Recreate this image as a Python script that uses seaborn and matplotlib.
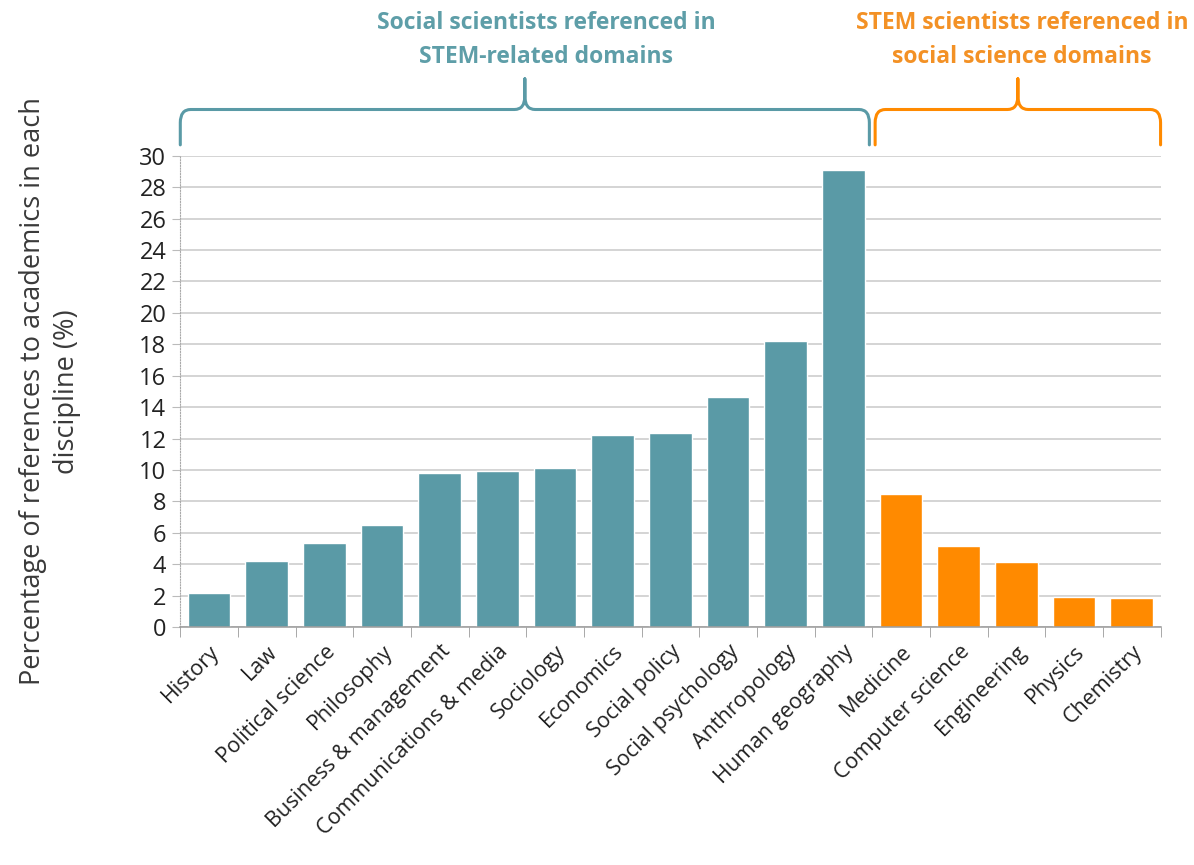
"""
bar chart of references across disciplines, with braces grouping
social science and STEM fields
"""

import numpy as np
import pandas as pd
import seaborn as sns
import matplotlib.pyplot as plt
from matplotlib.path import Path
from matplotlib.patches import PathPatch
from matplotlib.transforms import blended_transform_factory

# data
social = ["History", "Law", "Political science", "Philosophy",
          "Business & management", "Communications & media", "Sociology",
          "Economics", "Social policy", "Social psychology", "Anthropology",
          "Human geography"]
social_pct = [2.2, 4.2, 5.35, 6.5, 9.8, 9.95, 10.15, 12.25, 12.35, 14.65,
              18.2, 29.1]
stem = ["Medicine", "Computer science", "Engineering", "Physics", "Chemistry"]
stem_pct = [8.5, 5.15, 4.15, 1.9, 1.85]

group_names = ["Social scientists referenced in\nSTEM-related domains",
               "STEM scientists referenced in\nsocial science domains"]

teal = "#5A9AA6"
orange = "#FF8A00"
teal_txt = "#5E9EA8"
orange_txt = "#F39125"

df = pd.DataFrame({
    "discipline": social + stem,
    "pct": social_pct + stem_pct,
    "group": ["social"] * len(social) + ["stem"] * len(stem),
})

sns.set_style("white")
plt.rcParams["font.family"] = ["Open Sans", "DejaVu Sans"]

fig = plt.figure(figsize=(11.94, 8.65), dpi=100)
ax = fig.add_axes([0.151, 0.275, 0.821, 0.545])

sns.barplot(data=df, x="discipline", y="pct", hue="group",
            palette={"social": teal, "stem": orange}, dodge=False,
            width=0.74, legend=False, saturation=1, ax=ax)

ax.set_ylim(0, 30)
ax.set_xlim(-0.5, len(df) - 0.5)
ax.set_yticks(np.arange(0, 31, 2))
ax.yaxis.grid(True, color="#c9c9c9", linewidth=1.1)
ax.set_axisbelow(True)

for s in ["top", "right"]:
    ax.spines[s].set_visible(False)
ax.spines["left"].set_color("#aaaaaa")
ax.spines["left"].set_linestyle((0, (1, 1.5)))
ax.spines["left"].set_linewidth(0.8)
ax.spines["bottom"].set_color("#9a9a9a")
ax.spines["bottom"].set_linewidth(1.1)

# category labels, ticks between bars
ax.set_xticks(np.arange(len(df)))
ax.set_xticklabels(df["discipline"], rotation=45, ha="right",
                   rotation_mode="anchor", fontsize=15.5, color="#222222")
ax.set_xticks(np.arange(len(df) + 1) - 0.5, minor=True)
ax.tick_params(axis="x", which="major", length=0, pad=10)
ax.tick_params(axis="x", which="minor", length=7, color="#9a9a9a",
               direction="out", bottom=True)
ax.tick_params(axis="y", length=6, color="#bbbbbb", labelsize=17,
               labelcolor="#222222", left=True, pad=4)

ax.set_xlabel("")
ax.set_ylabel("Percentage of references to academics in each\ndiscipline (%)",
              fontsize=19.5, color="#3a3a3a", labelpad=42, linespacing=1.3)


def brace(x0, x1, color, xc=None):
    # curly brace above the axes: x in data, y in axes fraction
    tr = blended_transform_factory(ax.transData, ax.transAxes)
    if xc is None:
        xc = (x0 + x1) / 2
    yb, ym, yt = 1.023, 1.098, 1.163
    rx, ry = 0.18, 0.028
    verts, codes = [], []
    for xe, sgn in [(x0, 1), (x1, -1)]:
        verts += [(xe, yb), (xe, ym - ry), (xe, ym), (xe + sgn * rx, ym),
                  (xc - sgn * rx, ym), (xc, ym), (xc, ym + ry), (xc, yt)]
        codes += [Path.MOVETO, Path.LINETO, Path.CURVE3, Path.CURVE3,
                  Path.LINETO, Path.CURVE3, Path.CURVE3, Path.LINETO]
    patch = PathPatch(Path(verts, codes), fill=False, edgecolor=color,
                      linewidth=2.2, transform=tr, clip_on=False,
                      capstyle="round", joinstyle="round")
    ax.add_patch(patch)


n1 = len(social)
brace(-0.5, n1 - 0.55, teal)
brace(n1 - 0.45, len(df) - 0.5, orange)

tr = blended_transform_factory(ax.transData, ax.transAxes)
ax.text(5.85, 1.245, group_names[0], transform=tr, ha="center", va="center",
        fontsize=16.5, fontweight="bold", color=teal_txt, linespacing=1.55)
ax.text(14.1, 1.245, group_names[1], transform=tr, ha="center", va="center",
        fontsize=16.5, fontweight="bold", color=orange_txt, linespacing=1.55)

plt.savefig("out.png", dpi=100)
